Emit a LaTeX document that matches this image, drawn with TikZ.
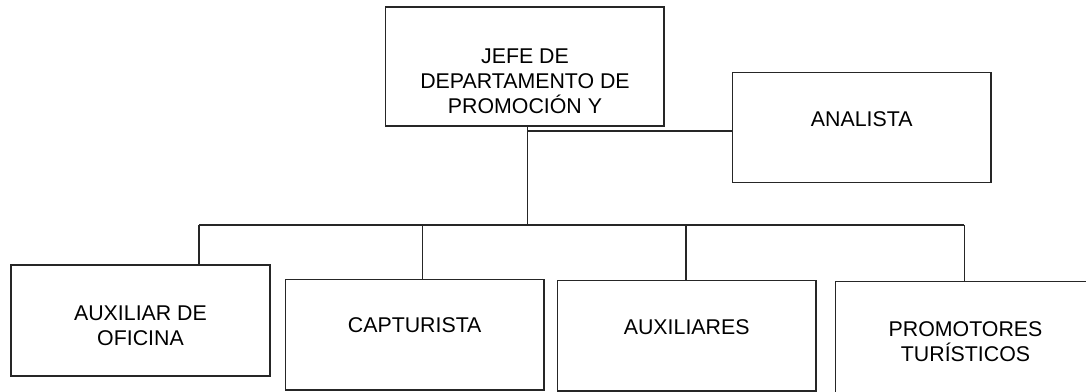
\documentclass[tikz,border=0pt]{standalone}
\usepackage{fontspec}
\setmainfont{Liberation Sans}
\usetikzlibrary{fit}
\begin{document}
\begin{tikzpicture}[x=0.75pt,y=-0.75pt,
  box/.style={draw=black!85, line width=0.9pt, inner sep=0pt, rectangle},
  lbl/.style={align=center, inner sep=0pt, font=\fontsize{16}{18.75}\selectfont},
  conn/.style={draw=black!85, line width=0.9pt}]
\useasboundingbox (0,0) rectangle (1086,392);
% boxes
\node[box, fit={(385.7,7) (664,126)}] (jefe) {};
\node[box, fit={(732.3,72.7) (991,182.7)}] (analista) {};
\node[box, fit={(11,265) (270,376)}] (aux) {};
\node[box, fit={(285.3,279.3) (544,390)}] (capt) {};
\node[box, fit={(557.3,280.7) (816,391)}] (auxs) {};
\node[box, fit={(835.7,281.7) (1096,394)}] (prom) {};
% labels
\node[lbl] (tjefe) at (525,81) {JEFE DE\\DEPARTAMENTO DE\\PROMOCIÓN Y};
\node[lbl] (tanal) at (861.7,119) {ANALISTA};
\node[lbl] (taux) at (140.5,326) {AUXILIAR DE\\OFICINA};
\node[lbl] (tcapt) at (414.7,325.5) {CAPTURISTA};
\node[lbl] (tauxs) at (686.7,327) {AUXILIARES};
\node[lbl] (tprom) at (965.5,341.5) {PROMOTORES\\TURÍSTICOS};
% connectors
\coordinate (j1) at (527.3,131);
\coordinate (j2) at (527.3,225);
\coordinate (b1) at (199,225);
\coordinate (b2) at (422.7,225);
\coordinate (b3) at (686,225);
\coordinate (b4) at (964.3,225);
\draw[conn] (jefe.south -| j1) -- (j2);
\draw[conn] (j1) -- (j1 -| analista.west);
\draw[conn] (b1) -- (b4);
\draw[conn] (b1) -- (b1 |- aux.north);
\draw[conn] (b2) -- (b2 |- capt.north);
\draw[conn] (b3) -- (b3 |- auxs.north);
\draw[conn] (b4) -- (b4 |- prom.north);
\end{tikzpicture}
\end{document}
